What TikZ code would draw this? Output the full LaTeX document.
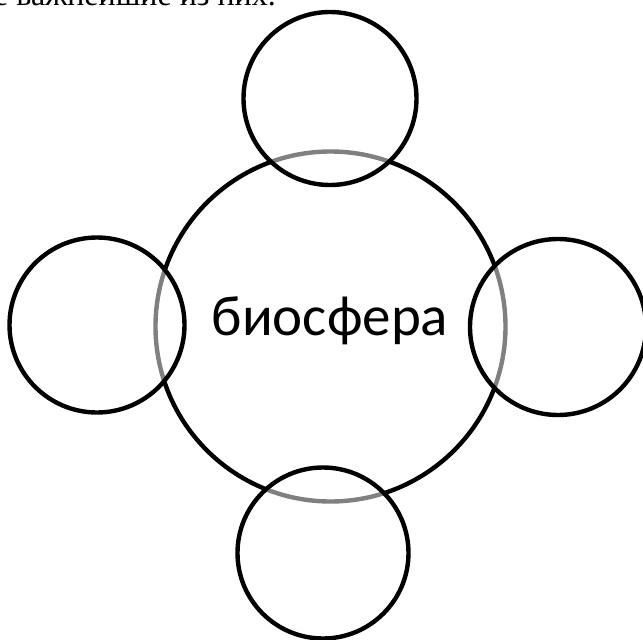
\documentclass[tikz,border=0pt]{standalone}
\usepackage{fontspec}
\setmainfont{Carlito}
\newfontfamily\serifru{Liberation Serif}
\begin{document}
\begin{tikzpicture}[x=1pt,y=-1pt,
  ring/.style={draw=black,line width=4.4pt},
  satellite/.style={draw=black,line width=4.4pt,fill=white,fill opacity=0.5},
  label/.style={font=\fontsize{57}{64}\selectfont,inner sep=0pt}]
\useasboundingbox (0,0) rectangle (643,640);
\clip (0,0) rectangle (643,640);
\node[anchor=base east,inner sep=0pt,font=\serifru\fontsize{32}{36}\selectfont] (top) at (276,5) {е важнейшие из них.};
\draw[ring] (330.5,326.5) circle[radius=175];
\coordinate (bio) at (330.5,326.5);
\draw[satellite] (330,98.5) circle[radius=86.5];
\draw[satellite] (323,553) circle[radius=85.5];
\draw[satellite] (97,325) circle[radius=87.5];
\draw[satellite] (558,327) circle[radius=88];
\node[label,anchor=base] (biosfera) at (330,335) {биосфера};
\end{tikzpicture}
\end{document}
